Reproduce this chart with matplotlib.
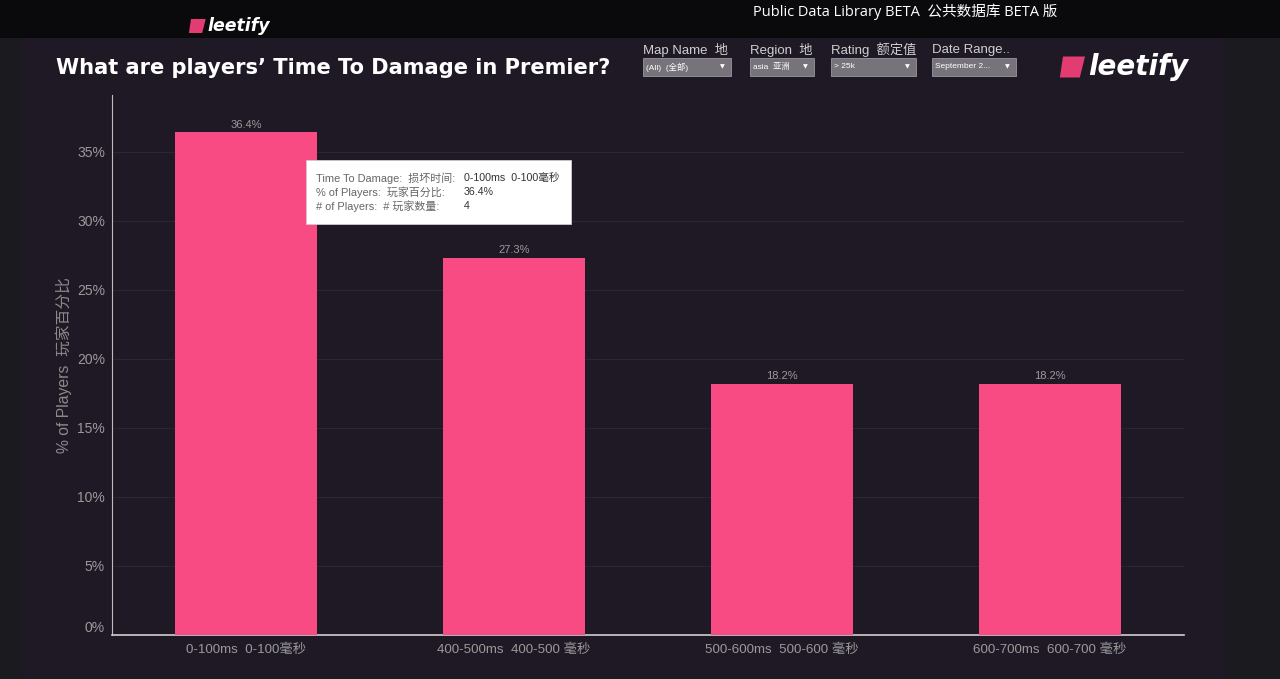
import matplotlib.pyplot as plt
from matplotlib.patches import Rectangle, Polygon
import numpy as np

categories = ['0-100ms  0-100毫秒', '400-500ms  400-500 毫秒',
              '500-600ms  500-600 毫秒', '600-700ms  600-700 毫秒']
pct_players = [36.4, 27.3, 18.2, 18.2]
yticks = [0, 5, 10, 15, 20, 25, 30, 35]

plt.rcParams['font.family'] = ['Liberation Sans', 'Noto Sans CJK SC', 'DejaVu Sans']

W, H = 1280, 679
fig = plt.figure(figsize=(W / 100, H / 100), dpi=100)
fig.patch.set_facecolor('#1b1a1e')


def fx(x):
    return x / W


def fy(y):
    return 1 - y / H


def box(x0, y0, x1, y1, color, **kw):
    fig.patches.append(Rectangle((fx(x0), fy(y1)), fx(x1) - fx(x0), fy(y0) - fy(y1),
                                 transform=fig.transFigure, facecolor=color,
                                 edgecolor=kw.pop('ec', 'none'), zorder=kw.pop('z', -1), **kw))


# backgrounds
box(0, 0, 1280, 38, '#0a0a0c')
box(22, 38, 1225, 679, '#1f1926')


def logo(x, y, s, size):
    # pink icon + text
    pts = [(x, y - s * 0.5), (x + s * 1.05, y - s * 0.5), (x + s * 0.8, y + s * 0.5), (x - s * 0.15, y + s * 0.5)]
    fig.patches.append(Polygon([(fx(a), fy(b)) for a, b in pts], closed=True,
                               transform=fig.transFigure, facecolor='#e23c72', zorder=2))
    fig.text(fx(x + s * 1.2), fy(y), 'leetify', color='white', fontsize=size,
             fontweight='bold', style='italic', ha='left', va='center', family='DejaVu Sans')


logo(191, 26, 14, 12.5)
logo(1063, 67, 21, 20)

fig.text(fx(905), fy(12), 'Public Data Library BETA  公共数据库 BETA 版', color='white',
         fontsize=10.5, ha='center', va='center', family=['Open Sans', 'Noto Sans CJK SC'])

fig.text(fx(56), fy(68), 'What are players\u2019 Time To Damage in Premier?', color='white',
         fontsize=15.1, fontweight='bold', ha='left', va='center', family='DejaVu Sans')

# filters
filters = [('Map Name  地', '(All)  (全部)', 643, 731),
           ('Region  地', 'asia  亚洲', 750, 814),
           ('Rating  额定值', '> 25k', 831, 916),
           ('Date Range..', 'September 2...', 932, 1016)]
for label, val, x0, x1 in filters:
    fig.text(fx(x0), fy(50), label, color='#cfcfcf', fontsize=9.5, ha='left', va='center')
    box(x0, 58, x1, 76, '#77737a', ec='#9a969c', lw=0.6, z=1)
    fig.text(fx(x0 + 3), fy(67), val, color='white', fontsize=6, ha='left', va='center')
    fig.text(fx(x1 - 9), fy(67), '▼', color='white', fontsize=4.5, ha='center', va='center',
             family='DejaVu Sans')

# main axes
ax = fig.add_axes([fx(112), fy(635), fx(1184) - fx(112), fy(95) - fy(635)])
ax.set_zorder(1)
ax.set_facecolor('none')
x = np.arange(len(categories))
bars = ax.bar(x, pct_players, width=0.533, color='#f84a83', zorder=3)
for xi, v in zip(x, pct_players):
    ax.text(xi, v + 0.2, f'{v}%', color='#9a9a9a', fontsize=8, ha='center', va='bottom')

ax.set_xlim(-0.5, 3.5)
ax.set_ylim(0, 39.1)
ax.set_yticks(yticks)
ax.set_yticklabels([f'{t}%' for t in yticks])
ax.get_yticklabels()[0].set_va('bottom')
ax.set_xticks(x)
ax.set_xticklabels(categories)
ax.tick_params(axis='both', length=0, colors='#9a9a9a')
ax.tick_params(axis='y', pad=5, labelsize=10)
ax.tick_params(axis='x', pad=6, labelsize=9.6)
ax.grid(axis='y', color='#2c2533', lw=0.8, zorder=0)
for side in ['top', 'right']:
    ax.spines[side].set_visible(False)
ax.spines['left'].set_color('#bdbdbd')
ax.spines['left'].set_linewidth(0.8)
ax.spines['bottom'].set_color('#cfcfcf')
ax.spines['bottom'].set_linewidth(1.2)
ax.set_ylabel('% of Players  玩家百分比', color='#8a8a8a', fontsize=11.3, labelpad=4)

# tooltip
box(306, 160, 571, 224, 'white', ec='#cccccc', lw=0.6, z=5)
rows = [('Time To Damage:  损坏时间:', '0-100ms  0-100毫秒', 178),
        ('% of Players:  玩家百分比:', '36.4%', 192),
        ('# of Players:  # 玩家数量:', '4', 206)]
for lab, val, yy in rows:
    fig.text(fx(316), fy(yy), lab, color='#666666', fontsize=7.9, ha='left', va='center', zorder=6)
    fig.text(fx(464), fy(yy), val, color='#333333', fontsize=7.7, ha='left', va='center', zorder=6)

fig.savefig('out.png', dpi=100, facecolor=fig.get_facecolor())
